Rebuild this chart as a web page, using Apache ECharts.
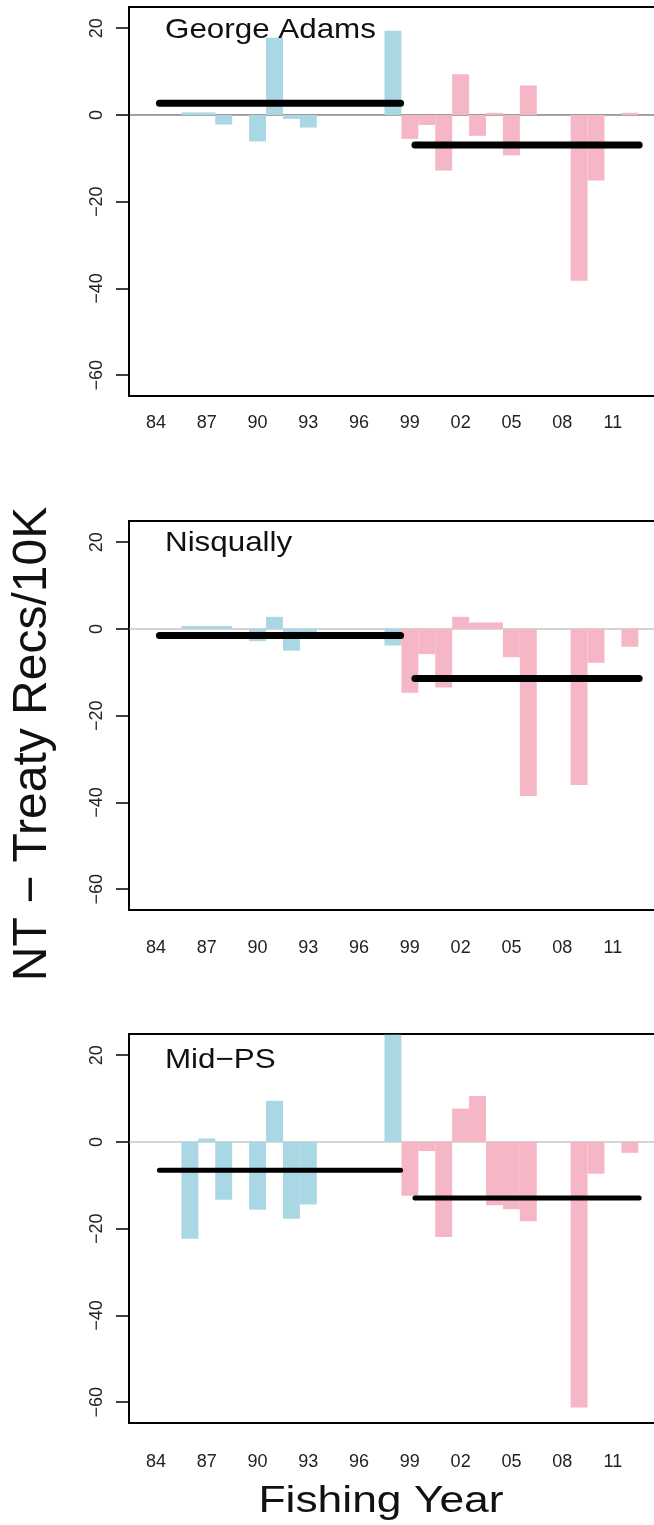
<!DOCTYPE html>
<html>
<head>
<meta charset="utf-8">
<script src="https://cdn.jsdelivr.net/npm/echarts@6/dist/echarts.min.js"></script>
<style>
html,body{margin:0;padding:0;background:#fff;overflow:hidden;width:654px;}
#c{width:664px;height:1525px;}
</style>
</head>
<body>
<div id="c"></div>
<script>
// ---------- data ----------
const years = [1984,1985,1986,1987,1988,1989,1990,1991,1992,1993,1994,1995,1996,1997,1998,
               1999,2000,2001,2002,2003,2004,2005,2006,2007,2008,2009,2010,2011,2012];
const lastEarlyYear = 1998;

const georgeAdamsValues = [0,0,0.6,0.6,-2.2,0,-6.1,17.8,-0.9,-2.9,0,0,0,0,19.4,
                           -5.5,-2.3,-12.8,9.4,-4.8,0.5,-9.3,6.8,0,0,-38.2,-15.1,0,0.5];
const nisquallyValues   = [0,0,0.7,0.7,0.7,0,-2.8,2.8,-5.0,-1.0,0,0,0,0,-3.8,
                           -14.7,-5.8,-13.5,2.8,1.5,1.5,-6.5,-38.5,0,0,-36.0,-7.8,0,-4.1];
const midPSValues       = [0,0,-22.3,0.8,-13.3,0,-15.6,9.5,-17.7,-14.4,0,0,0,0,24.7,
                           -12.4,-2.1,-21.9,7.7,10.6,-14.6,-15.5,-18.3,0,0,-61.2,-7.3,0,-2.5];

const panelNames = ['George Adams', 'Nisqually', 'Mid\u2212PS'];
const meanEarly = [2.7, -1.5, -6.5];
const meanLate  = [-6.9, -11.4, -12.9];
const meanEarlySpan = [1984.2, 1998.45];
const meanLateSpan  = [1999.3, 2012.55];

const xTickYears  = [1984,1987,1990,1993,1996,1999,2002,2005,2008,2011];
const xTickLabels = ['84','87','90','93','96','99','02','05','08','11'];
const yTickValues = [-60,-40,-20,0,20];
const yTickLabels = ['\u221260','\u221240','\u221220','0','20'];

const xAxisTitle = 'Fishing Year';
const yAxisTitle = 'NT \u2212 Treaty Recs/10K';

// ---------- layout / style ----------
const GRID_LEFT = 129, GRID_WIDTH = 527, PX_PER_YEAR = 16.92;
const X_MIN = 1982.4, X_MAX = X_MIN + GRID_WIDTH / PX_PER_YEAR;
const Y_MIN = -64.8, Y_MAX = 24.9;
const gridTops = [7, 521, 1034];
const labelMargins = [18, 29, 30];
const meanWidths = [7, 7, 5];
const zeroColors = ['#444', '#aaa', '#aaa'];
const titleOffsets = [23, 22.5, 26];
const BLUE = '#A9D7E3', PINK = '#F5B6C6';
const FONT = '"Liberation Sans", Arial, sans-serif';

const panelValues = [georgeAdamsValues, nisquallyValues, midPSValues];

function renderBar(params, api) {
  const x = api.value(0), v = api.value(1);
  const p0 = api.coord([x - 0.5, 0]);
  const p1 = api.coord([x + 0.5, v]);
  return {
    type: 'rect',
    shape: { x: p0[0], y: Math.min(p0[1], p1[1]), width: p1[0] - p0[0], height: Math.abs(p1[1] - p0[1]) },
    style: { fill: api.visual('color') }
  };
}

const grids = [], xAxes = [], yAxes = [], series = [], graphics = [];

panelValues.forEach((vals, i) => {
  grids.push({ left: GRID_LEFT, top: gridTops[i], width: GRID_WIDTH, height: 389, show: true,
               borderColor: '#000', borderWidth: 2, backgroundColor: 'transparent', containLabel: false });
  xAxes.push({
    type: 'value', gridIndex: i, min: X_MIN, max: X_MAX,
    axisLine: { show: false }, axisTick: { show: false }, splitLine: { show: false },
    axisLabel: {
      customValues: xTickYears,
      formatter: v => xTickLabels[xTickYears.indexOf(Math.round(v))],
      margin: labelMargins[i], fontSize: 18, color: '#222', fontFamily: FONT
    }
  });
  yAxes.push({
    type: 'value', gridIndex: i, min: Y_MIN, max: Y_MAX,
    axisLine: { show: false }, splitLine: { show: false },
    axisTick: { show: true, customValues: yTickValues, length: 13, inside: false,
                lineStyle: { color: '#000', width: 1.5 } },
    axisLabel: {
      customValues: yTickValues,
      formatter: v => yTickLabels[yTickValues.indexOf(Math.round(v))],
      rotate: 90, margin: 23, fontSize: 18, color: '#222', fontFamily: FONT,
      align: 'center', verticalAlign: 'bottom'
    }
  });

  const early = [], late = [];
  years.forEach((y, k) => { (y <= lastEarlyYear ? early : late).push([y, vals[k]]); });

  series.push({ type: 'line', xAxisIndex: i, yAxisIndex: i, data: [[X_MIN, 0], [X_MAX, 0]],
                symbol: 'none', silent: true, z: 1, lineStyle: { color: zeroColors[i], width: 1 } });
  series.push({ type: 'custom', xAxisIndex: i, yAxisIndex: i, data: early, renderItem: renderBar,
                itemStyle: { color: BLUE }, encode: { x: 0, y: 1 }, z: 2, clip: true });
  series.push({ type: 'custom', xAxisIndex: i, yAxisIndex: i, data: late, renderItem: renderBar,
                itemStyle: { color: PINK }, encode: { x: 0, y: 1 }, z: 2, clip: true });
  series.push({ type: 'line', xAxisIndex: i, yAxisIndex: i,
                data: [[meanEarlySpan[0], meanEarly[i]], [meanEarlySpan[1], meanEarly[i]]],
                symbol: 'none', silent: true, z: 4, lineStyle: { color: '#000', width: meanWidths[i], cap: 'round' } });
  series.push({ type: 'line', xAxisIndex: i, yAxisIndex: i,
                data: [[meanLateSpan[0], meanLate[i]], [meanLateSpan[1], meanLate[i]]],
                symbol: 'none', silent: true, z: 4, lineStyle: { color: '#000', width: meanWidths[i], cap: 'round' } });

  graphics.push({ type: 'text', x: 165, y: gridTops[i] + titleOffsets[i], scaleX: 1.12, z: 10,
                  style: { text: panelNames[i], font: '28px ' + FONT, fill: '#111', align: 'left', verticalAlign: 'middle' } });
});

graphics.push({ type: 'text', x: 33, y: 744, rotation: Math.PI / 2, z: 10,
                style: { text: yAxisTitle, font: '48px ' + FONT, fill: '#111', align: 'center', verticalAlign: 'middle' } });
graphics.push({ type: 'text', x: 381, y: 1502, scaleX: 1.2, z: 10,
                style: { text: xAxisTitle, font: '37px ' + FONT, fill: '#111', align: 'center', verticalAlign: 'middle' } });

const chart = echarts.init(document.getElementById('c'), null, { renderer: 'canvas' });
chart.setOption({
  animation: false,
  backgroundColor: '#fff',
  grid: grids, xAxis: xAxes, yAxis: yAxes, series: series, graphic: graphics
});
</script>
</body>
</html>
